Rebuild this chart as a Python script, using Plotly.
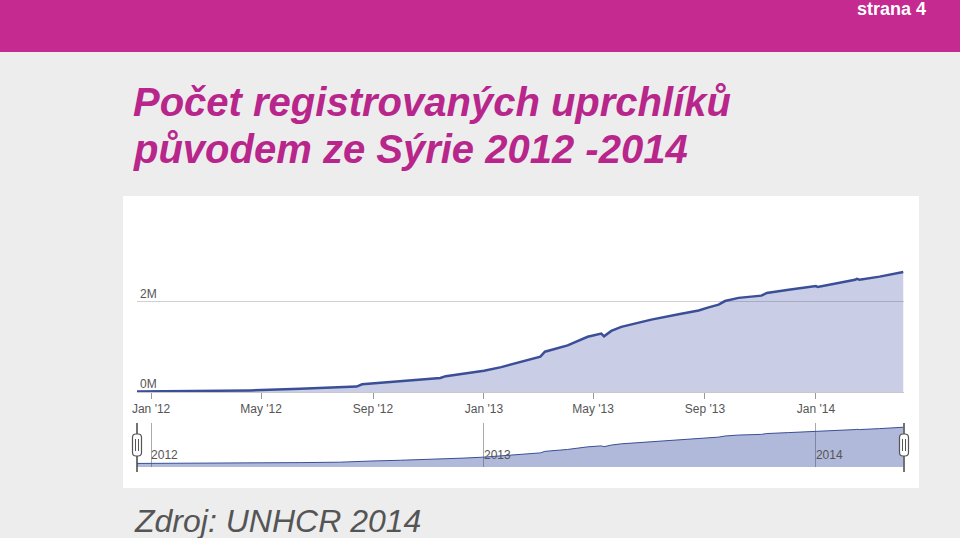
import plotly.graph_objects as go

# Počet registrovaných uprchlíků ze Sýrie (miliony)
dates = ["2011-12-16", "2012-02-24", "2012-04-10", "2012-04-19", "2012-06-13",
         "2012-07-26", "2012-08-14", "2012-08-20", "2012-09-01", "2012-10-01",
         "2012-11-14", "2012-11-20", "2012-12-10", "2013-01-01", "2013-01-20",
         "2013-02-11", "2013-03-04", "2013-03-09", "2013-04-03", "2013-04-25",
         "2013-05-10", "2013-05-13", "2013-05-21", "2013-06-01", "2013-07-04",
         "2013-08-03", "2013-08-25", "2013-09-05", "2013-09-16", "2013-09-23",
         "2013-10-08", "2013-11-02", "2013-11-08", "2013-12-02", "2014-01-01",
         "2014-01-03", "2014-01-22", "2014-02-13", "2014-02-15", "2014-02-18",
         "2014-03-12", "2014-04-07"]
refugees_m = [0.010, 0.015, 0.025, 0.035, 0.07,
              0.10, 0.12, 0.17, 0.19, 0.24,
              0.31, 0.35, 0.40, 0.47, 0.55,
              0.67, 0.78, 0.89, 1.03, 1.22,
              1.29, 1.23, 1.35, 1.44, 1.60,
              1.72, 1.80, 1.87, 1.93, 2.01,
              2.08, 2.13, 2.19, 2.26, 2.34,
              2.32, 2.39, 2.48, 2.50, 2.48,
              2.55, 2.65]
refugees = [v * 1e6 for v in refugees_m]

month_ticks = ["2012-01-01", "2012-05-01", "2012-09-01", "2013-01-01",
               "2013-05-01", "2013-09-01", "2014-01-01"]
month_labels = ["Jan '12", "May '12", "Sep '12", "Jan '13",
                "May '13", "Sep '13", "Jan '14"]
year_ticks = ["2012-01-01", "2013-01-01", "2014-01-01"]
year_labels = ["2012", "2013", "2014"]
y_ticks = [0, 2e6, 4e6]
y_labels = ["0M", "2M", ""]

x_range = ["2011-12-16 12:00", "2014-04-07 20:00"]
nav_range = [-0.25e6, 2.96e6]

W, H = 960, 538
MAGENTA = "#c42a90"
FONT = "Liberation Sans, Arial, sans-serif"


def px(x):
    return x / W


def py(y):
    return 1 - y / H


fig = go.Figure()

# hlavní graf
fig.add_trace(go.Scatter(
    x=dates, y=refugees, mode="lines", fill="tozeroy",
    line=dict(color="#3b4f98", width=2.5),
    fillcolor="rgba(60,80,165,0.28)",
    xaxis="x", yaxis="y", hoverinfo="skip"))

# navigátor
fig.add_trace(go.Scatter(
    x=dates, y=[nav_range[0]] * len(dates), mode="lines",
    line=dict(width=0), xaxis="x2", yaxis="y2", hoverinfo="skip"))
fig.add_trace(go.Scatter(
    x=dates, y=refugees, mode="lines", fill="tonexty",
    line=dict(color="#3b4f98", width=1),
    fillcolor="rgba(60,80,165,0.40)",
    xaxis="x2", yaxis="y2", hoverinfo="skip"))

plot_l, plot_r = 137, 904
shapes = [
    # fialový pruh nahoře
    dict(type="rect", xref="paper", yref="paper", x0=0, x1=1, y0=py(52), y1=1,
         fillcolor=MAGENTA, line_width=0, layer="below"),
    # bílý panel grafu
    dict(type="rect", xref="paper", yref="paper", x0=px(123), x1=px(919),
         y0=py(488), y1=py(196), fillcolor="white", line_width=0, layer="below"),
]

# úchyty navigátoru
for hx in (plot_l, plot_r):
    shapes.append(dict(type="line", xref="paper", yref="paper",
                       x0=px(hx), x1=px(hx), y0=py(472), y1=py(423),
                       line=dict(color="#444", width=1.5)))
    l, r, t, b, rr = hx - 4.5, hx + 4.5, 434, 456, 3.5
    path = (f"M {px(l + rr)},{py(t)} L {px(r - rr)},{py(t)} "
            f"Q {px(r)},{py(t)} {px(r)},{py(t + rr)} L {px(r)},{py(b - rr)} "
            f"Q {px(r)},{py(b)} {px(r - rr)},{py(b)} L {px(l + rr)},{py(b)} "
            f"Q {px(l)},{py(b)} {px(l)},{py(b - rr)} L {px(l)},{py(t + rr)} "
            f"Q {px(l)},{py(t)} {px(l + rr)},{py(t)} Z")
    shapes.append(dict(type="path", xref="paper", yref="paper", path=path,
                       fillcolor="white", line=dict(color="#555", width=1.2)))
    for dx in (-1.5, 1.5):
        shapes.append(dict(type="line", xref="paper", yref="paper",
                           x0=px(hx + dx), x1=px(hx + dx), y0=py(439), y1=py(451),
                           line=dict(color="#555", width=1)))

annotations = [
    dict(text="<b>strana 4</b>", x=px(928), y=py(9), xref="paper", yref="paper",
         xanchor="right", yanchor="middle", showarrow=False,
         font=dict(family=FONT, size=18, color="white")),
    dict(text="<b><i>Počet registrovaných uprchlíků</i></b>", x=px(131), y=py(102),
         xref="paper", yref="paper", xanchor="left", yanchor="middle",
         showarrow=False, font=dict(family=FONT, size=40, color="#b8268c")),
    dict(text="<b><i>původem ze Sýrie 2012 -2014</i></b>", x=px(131), y=py(149),
         xref="paper", yref="paper", xanchor="left", yanchor="middle",
         showarrow=False, font=dict(family=FONT, size=40, color="#b8268c")),
    dict(text="<i>Zdroj: UNHCR 2014</i>", x=px(132), y=py(521),
         xref="paper", yref="paper", xanchor="left", yanchor="middle",
         showarrow=False, font=dict(family=FONT, size=32, color="#555555")),
]

# popisky osy y nad mřížkou
for v, lab in zip(y_ticks, y_labels):
    if lab:
        annotations.append(dict(text=lab, x=px(plot_l + 1), y=v, xref="paper",
                                yref="y", xanchor="left", yanchor="bottom",
                                showarrow=False, yshift=-1,
                                font=dict(family=FONT, size=12, color="#555")))

fig.update_layout(
    width=W, height=H,
    margin=dict(l=0, r=0, t=0, b=0, autoexpand=False),
    paper_bgcolor="#ededed",
    plot_bgcolor="rgba(0,0,0,0)",
    showlegend=False,
    font=dict(family=FONT, color="#555"),
    shapes=shapes,
    annotations=annotations,
    xaxis=dict(
        domain=[px(plot_l), px(plot_r)], range=x_range, type="date",
        tickvals=month_ticks, ticktext=month_labels, automargin=False,
        ticks="outside", ticklen=6, tickcolor="#999", tickwidth=1,
        showgrid=False, showline=True, linecolor="#c8c8c8", linewidth=1,
        tickfont=dict(size=12, color="#555"), zeroline=False,
        anchor="y"),
    yaxis=dict(
        domain=[py(392), py(211)], range=[0, 4e6], automargin=False,
        tickvals=y_ticks, showticklabels=False,
        showgrid=True, gridcolor="#d0d0d0",
        gridwidth=1, zeroline=False, showline=False, ticks="", anchor="x"),
    xaxis2=dict(
        domain=[px(plot_l), px(plot_r)], range=x_range, type="date",
        tickvals=year_ticks, ticktext=year_labels, automargin=False,
        ticklabelposition="inside right", ticks="",
        showgrid=True, gridcolor="#aaaaaa", gridwidth=1,
        showline=False, zeroline=False,
        tickfont=dict(size=12, color="#555"), anchor="y2"),
    yaxis2=dict(
        domain=[py(467), py(423)], range=nav_range, automargin=False,
        showticklabels=False, showgrid=False, zeroline=False, ticks="",
        anchor="x2"),
)

fig.write_html(
    "out.html",
    config={"displayModeBar": False},
    post_script=(
        "document.documentElement.style.margin='0';"
        "document.body.style.margin='0';document.body.style.overflow='hidden';"
        "var d=document.getElementById('{plot_id}');"
        "d.style.position='absolute';d.style.left='0px';d.style.top='0px';"))
